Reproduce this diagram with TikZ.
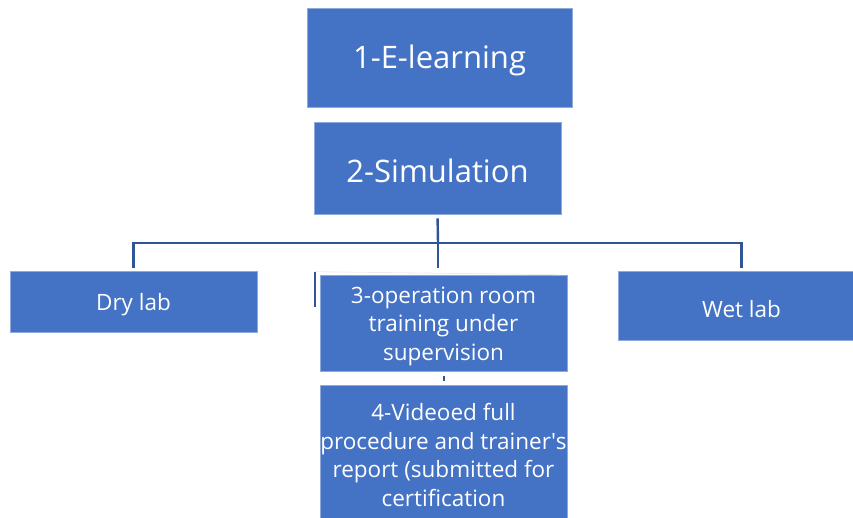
\documentclass[tikz,border=0pt]{standalone}
\usepackage{fontspec}
\setmainfont{Open Sans}
\definecolor{boxblue}{HTML}{4472C4}
\definecolor{boxedge}{HTML}{8EA9DB}
\definecolor{linkblue}{HTML}{2F5597}
\newcommand{\bigtxt}{\fontsize{31}{36}\selectfont}
\newcommand{\smalltxt}{\fontsize{22.5}{28.5}\selectfont}
\newcommand{\topstrut}{\rule{0pt}{23pt}}

\begin{document}
\begin{tikzpicture}[x=1pt,y=-1pt]
                        \tikzstyle{box}=[fill=boxblue, draw=boxedge, line width=0.6pt, text=white, align=center, inner sep=0pt, minimum width=247pt]
                        \tikzstyle{big}=[font=\bigtxt, text height=29pt]
                        \tikzstyle{small}=[font=\smalltxt, text height=23pt]
                        \tikzstyle{multi}=[font=\smalltxt]
                        \tikzstyle{link}=[draw=linkblue, line width=2.4pt]
                        \useasboundingbox (0,0) rectangle (853,517);
                        \node[box, big, minimum width=265pt, minimum height=99pt] (elearn) at (439.5,57.5) {1-E-learning};
                        \node[box, big, minimum height=92pt] (sim) at (437.5,168) {2-Simulation};
                        \node[box, small, minimum height=61pt] (dry) at (133.5,302) {Dry lab};
                        \node[box, multi, minimum height=96pt] (ops) at (443.5,323) {\topstrut 3-operation room\\training under\\supervision};
                        \node[box, small, minimum height=69pt] (wet) at (741.5,306) {Wet lab};
                        \node[box, multi, minimum height=134pt] (video) at (443.5,452) {\topstrut 4-Videoed full\\procedure and trainer\textquotesingle s\\report (submitted for\\certification};
                        \coordinate (hub) at (438,243);
                        \draw[link, shorten <=4pt] (sim.south) -- (hub);
                        \draw[link, shorten >=3pt] (hub) -- (hub -| dry) -- (dry.north -| hub -| dry);
                        \draw[link, shorten >=3pt] (hub) -- (hub -| wet) -- (wet.north);
                        \draw[link, shorten >=7pt] (hub) -- (hub |- ops.north);
                        \draw[link, line width=2pt, shorten <=5pt, shorten >=4pt] (ops.south) -- (video.north);
                        \draw[gray!15, line width=0.8pt] ([xshift=-5pt]ops.north west) ++(0,-3) -- ([xshift=-8pt]ops.north east |- ops.north) ++(0,-3);
                        \draw[link, line width=1.6pt] ([xshift=-5pt]ops.north west) ++(0,-3) -- ++(0,35);
                    \end{tikzpicture}
\end{document}
